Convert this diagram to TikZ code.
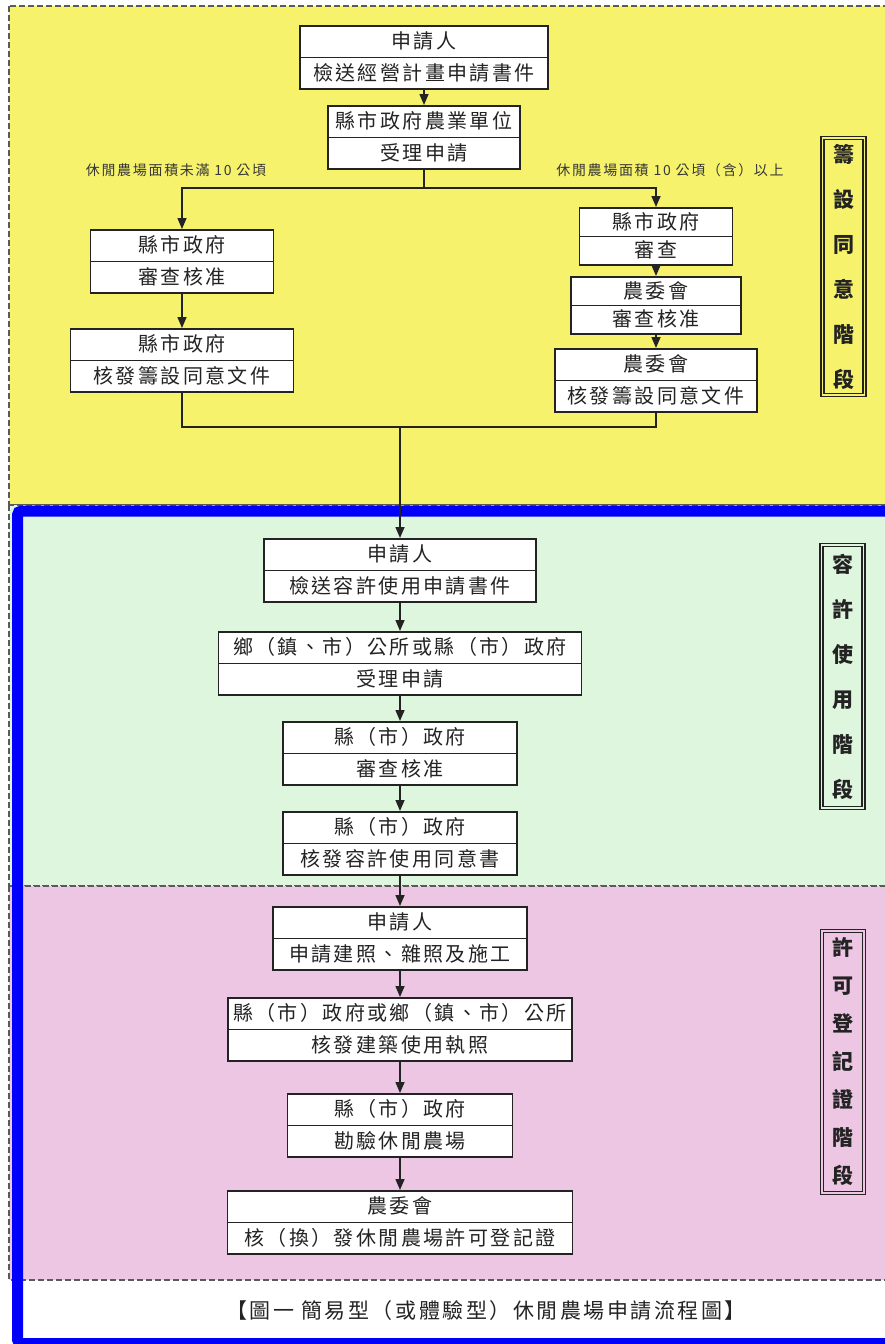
\documentclass[tikz,border=0pt]{standalone}
\usepackage{fontspec}
\usepackage{tikz}
\usetikzlibrary{shapes.multipart, arrows.meta, positioning}
\newfontfamily\cjkfont[LetterSpace=12]{Noto Sans CJK TC}
\newfontfamily\cjkstage{Noto Sans CJK TC}
\newcommand{\boxfont}{\cjkfont\fontsize{20}{22}\selectfont\rule[-4pt]{0pt}{22pt}}
\definecolor{yellowbg}{RGB}{246,242,108}
\definecolor{greenbg}{RGB}{222,246,222}
\definecolor{pinkbg}{RGB}{236,198,226}
\definecolor{framecolor}{RGB}{0,0,250}
\definecolor{dashgray}{RGB}{90,90,90}
\definecolor{boxline}{RGB}{35,35,35}
\definecolor{labelgray}{RGB}{55,55,55}

\begin{document}
\begin{tikzpicture}[
    x=1pt, y=-1pt,
    region/.style={draw=dashgray, line width=1.2pt, dash pattern=on 6pt off 3pt},
    stepbox/.style={rectangle split, rectangle split parts=2, draw=boxline, line width=1.6pt, fill=white, text=boxline, inner xsep=2pt, inner ysep=4pt, anchor=north, font=\boxfont},
    slim/.style={inner ysep=2.5pt},
    stagebox/.style={draw=boxline, line width=1.3pt, double=#1, double distance=1.8pt, minimum width=42pt, align=center, inner sep=0pt, text=boxline, font=\cjkstage\bfseries\fontsize{21}{45}\selectfont},
    branchlabel/.style={font=\cjkfont\fontsize{14}{16}\selectfont, text=labelgray, inner sep=0pt},
    arrow/.style={-{Triangle[length=11pt,width=9pt]}, line width=1.5pt, boxline},
    link/.style={line width=1.5pt, boxline}
]
    \useasboundingbox (0,0) rectangle (885,1344);

    % Stage backgrounds
    \draw[region, fill=yellowbg] (9,6) rectangle (895,505);
    \draw[region, fill=greenbg] (9,505) rectangle (895,886);
    \draw[region, fill=pinkbg] (9,886) rectangle (895,1280);
    \draw[framecolor, line width=11pt, rounded corners=4pt] (17.5,511) rectangle (891,1343.5);

    % Stage 1: preparation consent
    \node[stepbox, minimum width=248pt] (apply1) at (424,25) {申請人\nodepart{two}檢送經營計畫申請書件};
    \node[stepbox, minimum width=192pt] (agri) at (424,105) {縣市政府農業單位\nodepart{two}受理申請};

    \node[stepbox, minimum width=183pt] (cityok) at (182,229) {縣市政府\nodepart{two}審查核准};
    \node[stepbox, minimum width=223pt] (cityissue) at (182,328) {縣市政府\nodepart{two}核發籌設同意文件};

    \node[stepbox, slim, minimum width=153pt] (cityrev) at (656,207) {縣市政府\nodepart{two}審查};
    \node[stepbox, slim, minimum width=170pt] (coaok) at (656,276) {農委會\nodepart{two}審查核准};
    \node[stepbox, minimum width=202pt] (coaissue) at (656,348) {農委會\nodepart{two}核發籌設同意文件};

    \node[branchlabel] (smallarea) at (176,170) {休閒農場面積未滿 10 公頃};
    \node[branchlabel] (largearea) at (670,170) {休閒農場面積 10 公頃（含）以上};

    \node[stagebox=yellowbg, minimum height=257pt] (stage1) at (843.5,266.5) {籌\\設\\同\\意\\階\\段};

    % Stage 2: permitted use
    \node[stepbox, minimum width=272pt] (apply2) at (400,538) {申請人\nodepart{two}檢送容許使用申請書件};
    \node[stepbox, minimum width=363pt] (accept) at (400,631) {鄉（鎮、市）公所或縣（市）政府\nodepart{two}受理申請};
    \node[stepbox, minimum width=234pt] (review) at (400,721) {縣（市）政府\nodepart{two}審查核准};
    \node[stepbox, minimum width=234pt] (consent) at (400,811) {縣（市）政府\nodepart{two}核發容許使用同意書};

    \node[stagebox=greenbg, minimum height=263pt] (stage2) at (842.5,676.5) {容\\許\\使\\用\\階\\段};

    % Stage 3: registration certificate
    \node[stepbox, minimum width=254pt] (apply3) at (400,906) {申請人\nodepart{two}申請建照、雜照及施工};
    \node[stepbox, minimum width=344pt] (licence) at (400,997) {縣（市）政府或鄉（鎮、市）公所\nodepart{two}核發建築使用執照};
    \node[stepbox, minimum width=225pt] (inspect) at (400,1093) {縣（市）政府\nodepart{two}勘驗休閒農場};
    \node[stepbox, minimum width=345pt] (permit) at (400,1190) {農委會\nodepart{two}核（換）發休閒農場許可登記證};

    \node[stagebox=pinkbg, minimum height=262pt, font=\cjkstage\bfseries\fontsize{21}{38}\selectfont] (stage3) at (843,1062) {許\\可\\登\\記\\證\\階\\段};

    % Caption
    \node[font=\cjkfont\fontsize{21}{24}\selectfont, text=boxline] (caption) at (486,1311) {【圖一 簡易型（或體驗型）休閒農場申請流程圖】};

    % Arrows
    \coordinate (split) at (424,188);
    \coordinate (merge) at (400,427);
    \draw[arrow] (apply1) -- (agri);
    \draw[link] (agri.south) -- (split);
    \draw[arrow] (split) -| (cityok.north);
    \draw[arrow] (split) -| (cityrev.north);
    \draw[arrow] (cityok) -- (cityissue);
    \draw[arrow] (cityrev) -- (coaok);
    \draw[arrow] (coaok) -- (coaissue);
    \draw[link] (cityissue.south) |- (merge);
    \draw[link] (coaissue.south) |- (merge);
    \draw[arrow] (merge) -- (apply2);

    \draw[arrow] (apply2) -- (accept);
    \draw[arrow] (accept) -- (review);
    \draw[arrow] (review) -- (consent);
    \draw[arrow] (consent) -- (apply3);
    \draw[arrow] (apply3) -- (licence);
    \draw[arrow] (licence) -- (inspect);
    \draw[arrow] (inspect) -- (permit);
\end{tikzpicture}
\end{document}
